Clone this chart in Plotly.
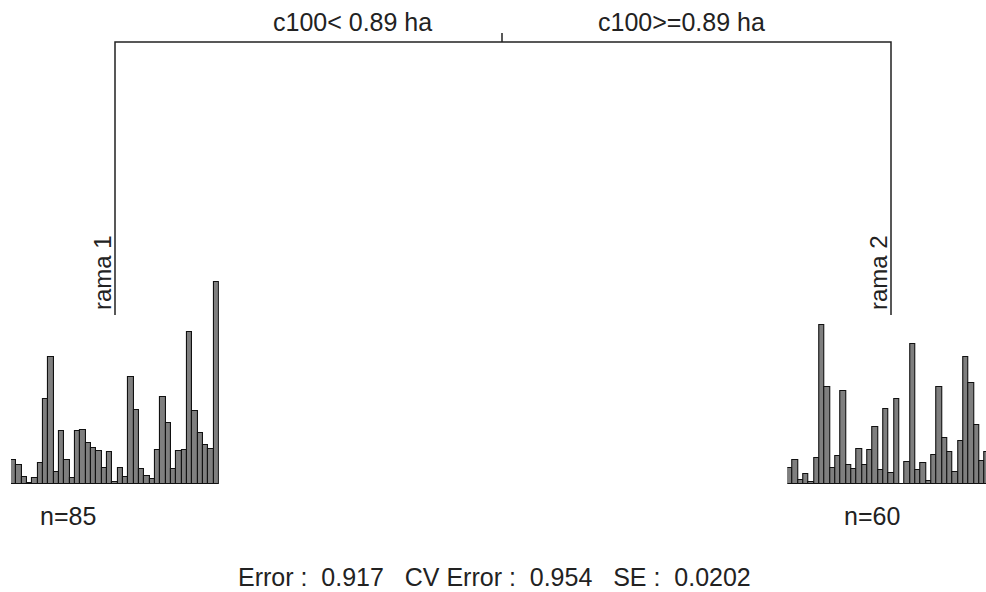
import plotly.graph_objects as go

# ---- data (relative species abundance per leaf) ----
left_vals = [24, 19, 7, 1, 6, 21, 85, 127, 12, 53, 24, 6, 53, 54, 41, 36, 33, 16, 32, 2,
             16, 7, 107, 74, 15, 8, 5, 34, 87, 61, 15, 33, 34, 152, 73, 51, 39, 35, 202]
right_vals = [16, 24, 4, 10, 2, 26, 159, 97, 16, 28, 93, 19, 15, 35, 19, 34, 57, 14, 75, 11,
              85, 0.5, 22, 140, 14, 21, 3, 29, 97, 46, 32, 12, 43, 127, 101, 59, 23, 32, 20]
split_labels = ["c100< 0.89 ha", "c100>=0.89 ha"]
leaf_labels = ["rama 1", "rama 2"]
leaf_n = [85, 60]
err_vals = {"Error": "0.917", "CV Error": "0.954", "SE": "0.0202"}

W, H = 986, 592
FONT = "Liberation Sans, Arial, Helvetica, sans-serif"
FS = 25
FS_V = 24
INK = "#222222"
NB = "\u00a0"

fig = go.Figure()

# tree skeleton on a pixel-like canvas axis
root_x, left_x, right_x = 502, 115, 891
top_y, leaf_y, tick_y = 42, 315, 33
fig.add_trace(go.Scatter(
    x=[left_x, left_x, right_x, right_x, None, root_x, root_x],
    y=[leaf_y, top_y, top_y, leaf_y, None, top_y, tick_y],
    mode="lines", line=dict(color="#222222", width=1.5),
    xaxis="x", yaxis="y", hoverinfo="skip", showlegend=False))

# histograms
n_left = len(left_vals)
n_right = len(right_vals)
fig.add_trace(go.Bar(x=list(range(1, n_left + 1)), y=left_vals, xaxis="x2", yaxis="y2",
                     marker=dict(color="#7f7f7f", line=dict(color="#111111", width=1.1)),
                     width=1, showlegend=False))
fig.add_trace(go.Bar(x=list(range(1, n_right + 1)), y=right_vals, xaxis="x3", yaxis="y3",
                     marker=dict(color="#7f7f7f", line=dict(color="#111111", width=1.1)),
                     width=1, showlegend=False))

base = 1 - 484 / H
ytop = 230
bar_px = 5.33
hidden = dict(visible=False, showgrid=False, zeroline=False, fixedrange=True)

fig.update_layout(
    width=W, height=H, margin=dict(l=0, r=0, t=0, b=0),
    paper_bgcolor="white", plot_bgcolor="rgba(0,0,0,0)",
    bargap=0, showlegend=False,
    xaxis=dict(range=[0, W], domain=[0, 1], **hidden),
    yaxis=dict(range=[H, 0], domain=[0, 1], **hidden),
    xaxis2=dict(range=[0.5, n_left + 0.5], domain=[11 / W, (11 + n_left * bar_px) / W], anchor="y2", **hidden),
    yaxis2=dict(range=[0, ytop], domain=[base, base + ytop / H], anchor="x2", **hidden),
    xaxis3=dict(range=[0.5, 0.5 + (W - 787.3) / bar_px], domain=[787.3 / W, 1], anchor="y3", **hidden),
    yaxis3=dict(range=[0, ytop], domain=[base, base + ytop / H], anchor="x3", **hidden),
    font=dict(family=FONT, size=FS, color=INK),
)

ann = []
ann.append(dict(x=352, y=22, text=split_labels[0], size=FS))
ann.append(dict(x=681, y=22, text=split_labels[1], size=FS))
ann.append(dict(x=102, y=273, text=leaf_labels[0], textangle=-90, size=FS_V))
ann.append(dict(x=878, y=273, text=leaf_labels[1], textangle=-90, size=FS_V))
ann.append(dict(x=68, y=516, text=f"n={leaf_n[0]}", size=FS))
ann.append(dict(x=872, y=516, text=f"n={leaf_n[1]}", size=FS))
err_text = (NB * 3).join(f"{k}{NB}:{NB}{NB}{v}" for k, v in err_vals.items())
ann.append(dict(x=494, y=577, text=err_text, size=FS))
for a in ann:
    s = a.pop("size")
    a.update(xref="x", yref="y", showarrow=False, xanchor="center", yanchor="middle",
             font=dict(family=FONT, size=s, color=INK))
fig.update_layout(annotations=ann)

fig.write_html("out.html")
